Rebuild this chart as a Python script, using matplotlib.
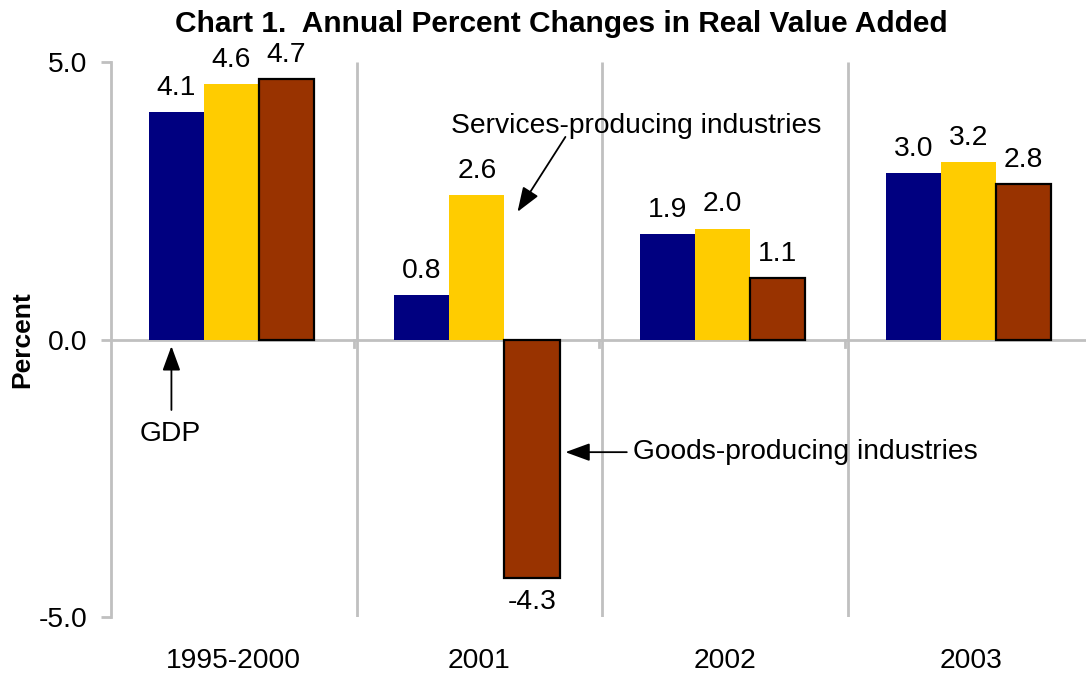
import matplotlib
matplotlib.use("Agg")
import matplotlib.pyplot as plt
import numpy as np

plt.rcParams['font.family'] = ['Liberation Sans', 'DejaVu Sans']

categories = ["1995-2000", "2001", "2002", "2003"]
series_names = ["GDP", "Services-producing industries", "Goods-producing industries"]
gdp = [4.1, 0.8, 1.9, 3.0]
services = [4.6, 2.6, 2.0, 3.2]
goods = [4.7, -4.3, 1.1, 2.8]
colors = ["#000080", "#FFCC00", "#993300"]
y_ticks = [5.0, 0.0, -5.0]

FS = 20.3
fig = plt.figure(figsize=(10.86, 6.75), dpi=100)
W, H = 1086, 675
ax = fig.add_axes([111 / W, (H - 617) / H, (1086 - 111) / W, (617 - 62) / H])

x = np.arange(len(categories))
bw = 0.224
grid_c = "#C0C0C0"

# grid lines between categories
for b in x[:-1] + 0.5:
    ax.plot([b, b], [-5, 5], color=grid_c, lw=2, zorder=1, solid_capstyle='butt')
    ax.plot([b - 0.012, b - 0.012], [0, -0.13], color=grid_c, lw=2, zorder=1)
ax.axhline(0, color=grid_c, lw=2, zorder=1)

series = [gdp, services, goods]
for i, (vals, c) in enumerate(zip(series, colors)):
    pos = x + (i - 1) * bw - 0.01
    if i == 2:
        ax.bar(pos, vals, bw, color=c, edgecolor="black", linewidth=1.6, zorder=3)
    else:
        ax.bar(pos, vals, bw, color=c, linewidth=0, zorder=3)
    for p, v in zip(pos, vals):
        if v >= 0:
            ax.annotate(f"{v:.1f}", (p, v), xytext=(0, 8), textcoords="offset points",
                        ha="center", va="bottom", fontsize=FS)
        else:
            ax.annotate(f"{v:.1f}", (p, v), xytext=(0, -8), textcoords="offset points",
                        ha="center", va="top", fontsize=FS)

ax.set_xlim(-0.5, 3.5 - 7.5 / 245.5)
ax.set_ylim(-5, 5)
for s in ["top", "right", "bottom"]:
    ax.spines[s].set_visible(False)
ax.spines["left"].set_color(grid_c)
ax.spines["left"].set_linewidth(2)
ax.set_yticks(y_ticks)
ax.set_yticklabels([f"{t:.1f}" for t in y_ticks], fontsize=FS)
ax.tick_params(axis="y", length=7, width=2, color=grid_c, pad=10)
ax.set_xticks(x)
ax.set_xticklabels(categories, fontsize=FS)
ax.tick_params(axis="x", length=0, pad=22)
ax.set_ylabel("Percent", fontsize=19, fontweight="bold", labelpad=3)

fig.text(561 / W, 1 - 24 / H, "Chart 1.  Annual Percent Changes in Real Value Added",
         ha="center", va="center", fontsize=21.5, fontweight="bold")

arrow = dict(arrowstyle="-|>,head_length=1.5,head_width=0.55", color="black", lw=1.3,
             shrinkA=0, shrinkB=0)
# GDP
ax.annotate("", xy=(x[0] - bw - 0.03, -0.12), xytext=(x[0] - bw - 0.03, -1.27),
            arrowprops=arrow)
ax.text(x[0] - bw - 0.035, -1.7, "GDP", ha="center", va="center", fontsize=FS)
# Services
ax.annotate("", xy=(1.155, 2.3), xytext=(1.35, 3.65), arrowprops=arrow)
ax.text(1.64, 3.85, "Services-producing industries", ha="center", va="center", fontsize=FS)
# Goods
ax.annotate("", xy=(1.35, -2.03), xytext=(1.6, -2.03), arrowprops=arrow)
ax.text(1.625, -2.03, "Goods-producing industries", ha="left", va="center", fontsize=FS)

fig.savefig("out.png", dpi=100)
